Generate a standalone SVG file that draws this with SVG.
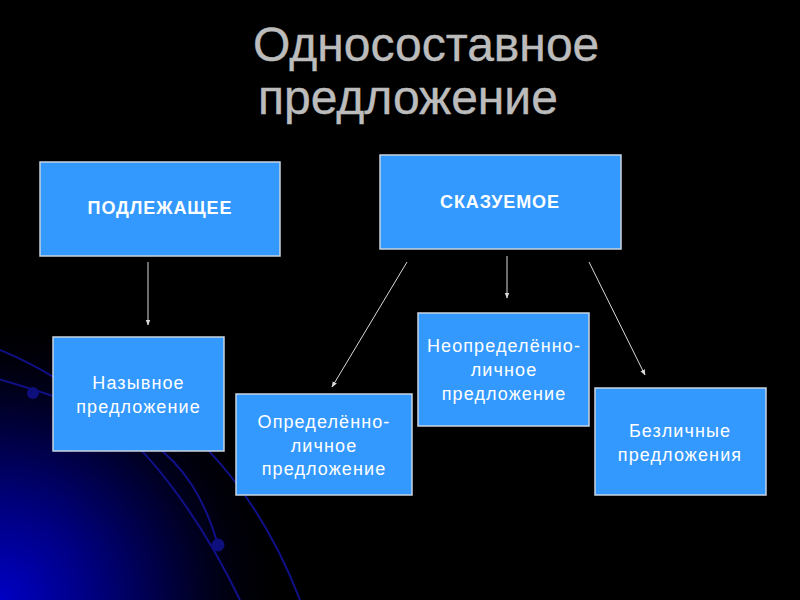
<svg xmlns="http://www.w3.org/2000/svg" width="800" height="600" viewBox="0 0 800 600">
<defs>
<radialGradient id="glow" cx="0" cy="600" r="290" gradientUnits="userSpaceOnUse">
<stop offset="0" stop-color="#0000c4"/>
<stop offset="0.3" stop-color="#000084"/>
<stop offset="0.65" stop-color="#00002e"/>
<stop offset="1" stop-color="#000000" stop-opacity="0"/>
</radialGradient>
<linearGradient id="fade" x1="0" y1="0" x2="0" y2="1">
<stop offset="0" stop-color="#10108a"/>
<stop offset="0.75" stop-color="#10108a"/>
<stop offset="1" stop-color="#10108a" stop-opacity="0"/>
</linearGradient>
<marker id="arr" viewBox="0 0 10 10" refX="9" refY="5" markerWidth="6" markerHeight="6" orient="auto" markerUnits="userSpaceOnUse">
<path d="M0,1 L10,5 L0,9 Z" fill="#d8d8d8"/>
</marker>
<style>
.box{fill:#3399ff;stroke:#c8d4e0;stroke-width:1.5}
.t{font-family:"Liberation Sans",Arial,sans-serif;font-size:18px;fill:#ffffff;text-anchor:middle;letter-spacing:1.1px}
.b{font-family:"Liberation Sans",Arial,sans-serif;font-size:18px;font-weight:bold;fill:#ffffff;text-anchor:middle;letter-spacing:0.9px}
.title{font-family:"Liberation Sans",Arial,sans-serif;font-size:48px;fill:#bcbcbc;stroke:#bcbcbc;stroke-width:0.4}
.c{stroke:#d8d8d8;stroke-width:1;fill:none;marker-end:url(#arr)}
.arc{fill:none;stroke:#10108a;stroke-width:2}
</style>
</defs>
<rect x="0" y="0" width="800" height="600" fill="#000000"/>
<rect x="0" y="0" width="800" height="600" fill="url(#glow)"/>
<g id="background-arcs">
<path class="arc" stroke="url(#fade)" d="M-5,348 C90,385 175,465 240,600"/>
<path class="arc" d="M-5,378 C140,420 190,450 218,545"/>
<path class="arc" stroke="url(#fade)" d="M150,400 Q250,470 300,600"/>
<circle cx="33" cy="393" r="6" fill="#0e0e7c"/>
<circle cx="218" cy="545" r="6.5" fill="#0e0e7c"/>
</g>
<g id="title">
<text class="title" x="253" y="61">Односоставное</text>
<text class="title" x="258" y="114">предложение</text>
</g>
<g id="connectors">
<line class="c" x1="148" y1="262" x2="148" y2="325"/>
<line class="c" x1="407" y1="262" x2="332" y2="387"/>
<line class="c" x1="507" y1="256" x2="507" y2="298"/>
<line class="c" x1="589" y1="262" x2="645" y2="375"/>
</g>
<g id="podlezhashchee">
<rect class="box" x="40" y="162" width="240" height="94"/>
<text class="b" x="160" y="214">ПОДЛЕЖАЩЕЕ</text>
</g>
<g id="skazuemoe">
<rect class="box" x="380" y="155" width="241" height="94"/>
<text class="b" x="500" y="208">СКАЗУЕМОЕ</text>
</g>
<g id="nazyvnoe">
<rect class="box" x="53" y="337" width="171" height="114"/>
<text class="t" x="138.5" y="389">Назывное</text>
<text class="t" x="138.5" y="413">предложение</text>
</g>
<g id="opredelenno">
<rect class="box" x="236" y="394" width="176" height="101"/>
<text class="t" x="324" y="428">Определённо-</text>
<text class="t" x="324" y="452">личное</text>
<text class="t" x="324" y="475">предложение</text>
</g>
<g id="neopredelenno">
<rect class="box" x="418" y="313" width="171" height="113"/>
<text class="t" x="504" y="352">Неопределённо-</text>
<text class="t" x="504" y="376">личное</text>
<text class="t" x="504" y="400">предложение</text>
</g>
<g id="bezlichnye">
<rect class="box" x="595" y="388" width="171" height="107"/>
<text class="t" x="680" y="437">Безличные</text>
<text class="t" x="680" y="461">предложения</text>
</g>
</svg>
